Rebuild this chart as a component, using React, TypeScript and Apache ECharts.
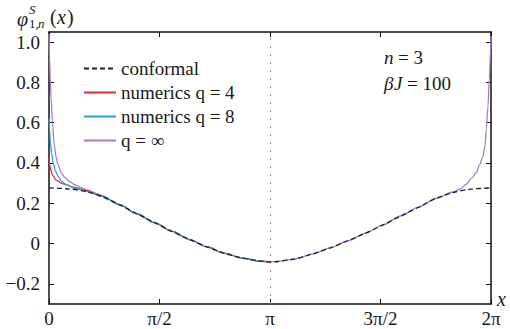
import React, { useEffect, useRef } from "react";
import * as echarts from "echarts";

const PI = Math.PI;

// x-axis ticks (multiples of pi/2) and their labels
const xTickValues = [0, PI / 2, PI, (3 * PI) / 2, 2 * PI];
const xTickLabels = ["0", "π/2", "π", "3π/2", "2π"];

// y-axis ticks
const yTickValues = [-0.2, 0, 0.2, 0.4, 0.6, 0.8, 1.0];
const yTickLabels = ["−0.2", "0", "0.2", "0.4", "0.6", "0.8", "1.0"];

// conformal curve
const conformalX = [0, 0.25, 0.5, 0.75, 1.0, 1.25, 1.5, 1.75, 2.0, 2.25, 2.5, 2.75, 3.0, PI,
  3.25, 3.5, 3.75, 4.0, 4.25, 4.5, 4.75, 5.0, 5.25, 5.5, 5.75, 6.0, 2 * PI];
const conformalY = [0.276, 0.272, 0.26, 0.234, 0.193, 0.148, 0.104, 0.06, 0.02, -0.017, -0.049, -0.072, -0.087, -0.091,
  -0.089, -0.076, -0.051, -0.021, 0.014, 0.052, 0.093, 0.137, 0.18, 0.224, 0.254, 0.27, 0.276];

// numerics q = 4 near x = 0 (joins conformal afterwards, up to pi)
const q4EdgeX = [0, 0.01, 0.025, 0.05, 0.1, 0.2, 0.35, 0.5, 0.75];
const q4EdgeY = [0.43, 0.39, 0.365, 0.34, 0.315, 0.296, 0.28, 0.265, 0.236];

// numerics q = 8 near x = 0
const q8EdgeX = [0, 0.01, 0.02, 0.035, 0.06, 0.09, 0.13, 0.18, 0.24, 0.38, 0.55, 0.75];
const q8EdgeY = [0.62, 0.56, 0.5, 0.45, 0.4, 0.36, 0.334, 0.31, 0.293, 0.272, 0.258, 0.236];

// q = infinity near x = 0 and near x = 2pi
const qInfLeftX = [0, 0.008, 0.018, 0.03, 0.05, 0.074, 0.1, 0.13, 0.17, 0.22, 0.29, 0.36, 0.45, 0.55, 0.7, 0.85];
const qInfLeftY = [1.04, 0.92, 0.82, 0.72, 0.6, 0.49, 0.43, 0.39, 0.355, 0.33, 0.308, 0.293, 0.278, 0.265, 0.245, 0.218];
const qInfRightX = [5.75, 5.85, 5.93, 6.0, 6.074, 6.12, 6.168, 6.2, 6.216, 6.24, 6.26, 6.275, 2 * PI];
const qInfRightY = [0.256, 0.272, 0.293, 0.322, 0.351, 0.39, 0.433, 0.49, 0.566, 0.68, 0.82, 0.95, 1.03];

const pairs = (xs: number[], ys: number[]) => xs.map((x, i) => [x, ys[i]]);
const conformalPairs = pairs(conformalX, conformalY);
const between = (a: number, b: number) => conformalPairs.filter((p) => p[0] > a && p[0] < b);

const q4Data = [...pairs(q4EdgeX, q4EdgeY), ...between(0.75, PI + 0.001)];
const q8Data = [...pairs(q8EdgeX, q8EdgeY), ...between(0.75, PI + 0.001)];
const qInfData = [...pairs(qInfLeftX, qInfLeftY), ...between(0.85, 5.75), ...pairs(qInfRightX, qInfRightY)];

const FAM = "Liberation Serif";
const TXT = "#1a1a1a";
const AX = "#111";
const F = (size: number, italic = false) => `${italic ? "italic " : ""}${size}px ${FAM}`;

export default function App() {
  const ref = useRef<HTMLDivElement>(null);
  useEffect(() => {
    if (!ref.current) return;
    const chart = echarts.init(ref.current, undefined, { renderer: "svg" });
    const lineCol = { lineStyle: { color: AX, width: 1.5 } };
    const tick = (vals: number[]) => ({ show: true, inside: true, length: 5, customValues: vals, lineStyle: { color: AX, width: 1 } });
    chart.setOption({
      animation: false,
      grid: { left: 49, right: 19, top: 32, bottom: 25, show: false },
      xAxis: [
        {
          type: "value", min: 0, max: 2 * PI, position: "bottom",
          axisLine: { show: true, onZero: false, ...lineCol },
          axisTick: tick(xTickValues), axisLabel: { show: false }, splitLine: { show: false },
        },
        {
          type: "value", min: 0, max: 2 * PI, position: "top",
          axisLine: { show: true, onZero: false, ...lineCol },
          axisTick: tick(xTickValues), axisLabel: { show: false }, splitLine: { show: false },
        },
      ],
      yAxis: [
        {
          type: "value", min: -0.3, max: 1.05, position: "left",
          axisLine: { show: true, onZero: false, ...lineCol },
          axisTick: tick(yTickValues), axisLabel: { show: false }, splitLine: { show: false },
        },
        {
          type: "value", min: -0.3, max: 1.05, position: "right",
          axisLine: { show: true, onZero: false, ...lineCol },
          axisTick: tick(yTickValues), axisLabel: { show: false }, splitLine: { show: false },
        },
      ],
      legend: {
        orient: "vertical", left: 78, top: 54, itemWidth: 32, itemHeight: 10, itemGap: 5,
        data: ["conformal", "numerics q = 4", "numerics q = 8", "q = ∞"],
        itemStyle: { opacity: 0 },
        textStyle: { fontFamily: FAM, fontSize: 19, color: TXT },
      },
      series: [
        {
          name: "q = ∞", type: "line", data: qInfData, symbol: "none", smooth: 0.3, smoothMonotone: "x",
          lineStyle: { color: "#a87bc9", width: 1.3 }, itemStyle: { color: "#a87bc9" },
          markLine: {
            silent: true, symbol: "none", label: { show: false },
            lineStyle: { color: "#8a8a8a", type: [2, 6], width: 1 },
            data: [{ xAxis: PI }],
          },
        },
        {
          name: "numerics q = 4", type: "line", data: q4Data, symbol: "none", smooth: 0.3, smoothMonotone: "x",
          lineStyle: { color: "#e8262a", width: 1.3 }, itemStyle: { color: "#e8262a" },
        },
        {
          name: "numerics q = 8", type: "line", data: q8Data, symbol: "none", smooth: 0.3, smoothMonotone: "x",
          lineStyle: { color: "#259fd9", width: 1.3 }, itemStyle: { color: "#259fd9" },
        },
        {
          name: "conformal", type: "line", data: conformalPairs, symbol: "none", smooth: 0.3,
          lineStyle: { color: "#222", width: 1.3, type: [5, 3] }, itemStyle: { color: "#222" },
        },
      ],
    });

    // tick labels placed through the axes' own scales
    const x0 = chart.convertToPixel({ xAxisIndex: 0 }, 0) as number;
    const yBottom = chart.convertToPixel({ yAxisIndex: 0 }, -0.3) as number;
    const xLabels = xTickValues.map((v, i) => ({
      type: "text",
      x: chart.convertToPixel({ xAxisIndex: 0 }, v) as number,
      y: yBottom + 5,
      style: { text: xTickLabels[i], font: F(19), fill: TXT, align: "center", verticalAlign: "top" },
    }));
    const yLabels = yTickValues.map((v, i) => ({
      type: "text",
      x: x0 - 9,
      y: chart.convertToPixel({ yAxisIndex: 0 }, v) as number,
      style: { text: yTickLabels[i], font: F(19), fill: TXT, align: "right", verticalAlign: "middle" },
    }));
    const t = (text: string, x: number, y: number, font: string) =>
      ({ type: "text", x, y, style: { text, font, fill: TXT, align: "left", verticalAlign: "middle" } });
    chart.setOption({
      graphic: [
        ...xLabels,
        ...yLabels,
        t("φ", 17, 19, F(20, true)),
        t("S", 29, 9, F(13, true)),
        t("1,", 29, 23, F(13)),
        t("n", 38, 23, F(13, true)),
        t("(", 50, 17, F(20)),
        t("x", 57, 17, F(20, true)),
        t(")", 67, 17, F(20)),
        t("x", 497, 299, F(20, true)),
        t("n", 384, 57, F(19, true)),
        t("= 3", 398, 57, F(19)),
        t("β", 384, 83, F(19, true)),
        t("J", 394, 83, F(19, true)),
        t("= 100", 407, 83, F(19)),
      ],
    });
    return () => chart.dispose();
  }, []);
  return <div ref={ref} style={{ width: 510, height: 329, position: "absolute", left: 0, top: 0 }} />;
}
